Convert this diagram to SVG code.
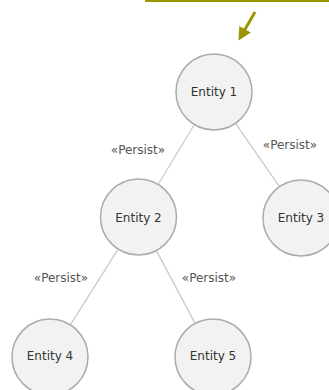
<svg xmlns="http://www.w3.org/2000/svg" width="329" height="390" viewBox="0 0 329 390">
  <style>
    .entity circle { fill: #f2f2f2; stroke: #ababab; stroke-width: 1.5; }
    .entity text { font-family: "DejaVu Sans", Verdana, sans-serif; font-size: 12px; fill: #333333; text-anchor: middle; dominant-baseline: central; }
    .conn line { stroke: #c8c8c8; stroke-width: 1.2; }
    .label { font-family: "DejaVu Sans", Verdana, sans-serif; font-size: 12px; fill: #555555; text-anchor: middle; dominant-baseline: central; }
  </style>
  <defs>
    <marker id="olive-head" markerWidth="4.4" markerHeight="4.4" refX="3.4" refY="2.2" orient="auto" markerUnits="strokeWidth">
      <path d="M0,0 L4.4,2.2 L0,4.4 Z" fill="#9a9600"/>
    </marker>
  </defs>
  <rect width="329" height="390" fill="#ffffff"/>

  <!-- highlight bar and pointer -->
  <rect x="145" y="0" width="184" height="2" fill="#9a9600"/>
  <line x1="255" y1="12" x2="240" y2="38" stroke="#9a9600" stroke-width="3" marker-end="url(#olive-head)"/>

  <!-- connectors -->
  <g id="connectors" class="conn">
    <line x1="194.4" y1="124.5" x2="158.1" y2="184.5"/>
    <line x1="235.6" y1="123.3" x2="279.4" y2="186.7"/>
    <line x1="118.2" y1="249.1" x2="70.3" y2="324.9"/>
    <line x1="156.4" y1="250.6" x2="195.1" y2="323.4"/>
  </g>

  <!-- connector labels -->
  <g id="labels">
    <text class="label" x="138" y="150">«Persist»</text>
    <text class="label" x="290" y="145">«Persist»</text>
    <text class="label" x="61" y="278">«Persist»</text>
    <text class="label" x="209" y="278">«Persist»</text>
  </g>

  <g id="entity1" class="entity">
    <circle cx="214" cy="92" r="38"/>
    <text x="214" y="92">Entity 1</text>
  </g>
  <g id="entity2" class="entity">
    <circle cx="138.5" cy="217" r="38"/>
    <text x="138.5" y="218">Entity 2</text>
  </g>
  <g id="entity3" class="entity">
    <circle cx="301" cy="218" r="38"/>
    <text x="301" y="218">Entity 3</text>
  </g>
  <g id="entity4" class="entity">
    <circle cx="50" cy="357" r="38"/>
    <text x="50" y="356">Entity 4</text>
  </g>
  <g id="entity5" class="entity">
    <circle cx="213" cy="357" r="38"/>
    <text x="213" y="356">Entity 5</text>
  </g>
</svg>
